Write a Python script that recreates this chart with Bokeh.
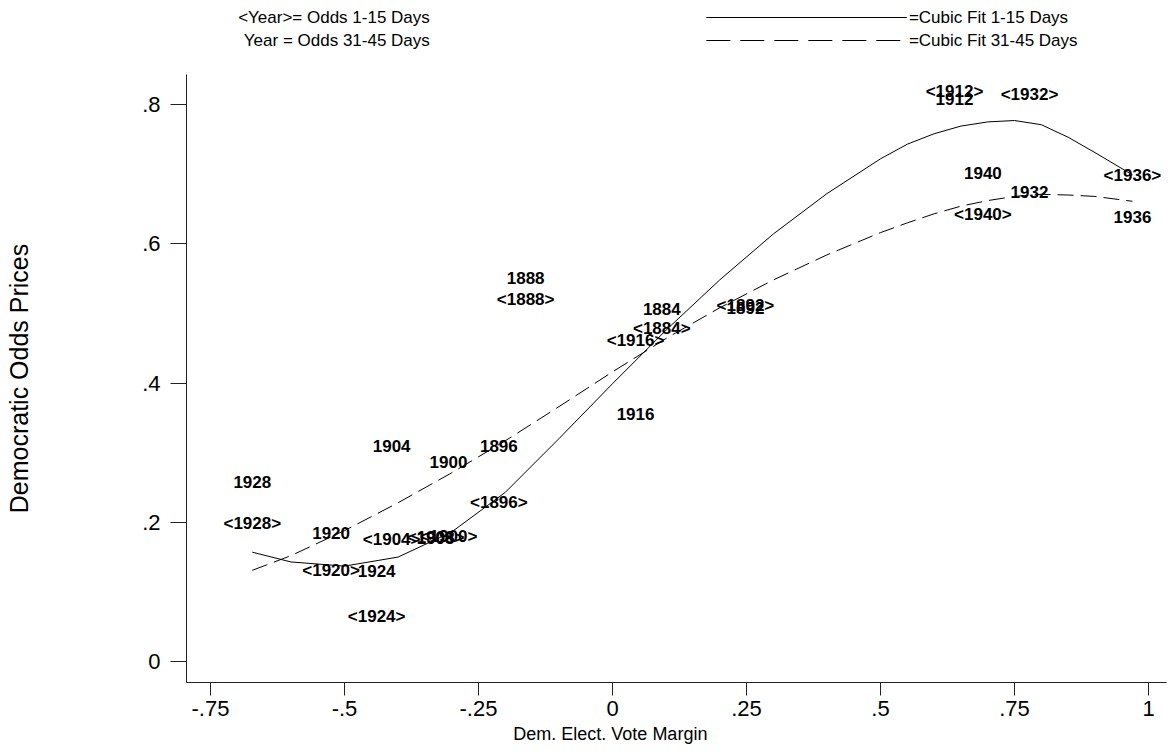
from bokeh.plotting import figure
from bokeh.layouts import column
from bokeh.models import ColumnDataSource, Range1d, FixedTicker, CustomJSTickFormatter, Label, Arrow
from bokeh.core.properties import value
from bokeh.embed import file_html
from bokeh.resources import INLINE

# ---------------- data ----------------
years = [1884, 1888, 1892, 1896, 1900, 1904, 1908, 1912, 1916, 1920, 1924, 1928, 1932, 1936, 1940]
vote_margin = [0.092, -0.162, 0.248, -0.212, -0.306, -0.412, -0.33, 0.638, 0.043,
               -0.525, -0.44, -0.672, 0.778, 0.97, 0.691]
odds_1_15 = [0.478, 0.520, 0.512, 0.229, 0.179, 0.175, 0.178, 0.818, 0.461,
             0.130, 0.065, 0.198, 0.814, 0.698, 0.642]
odds_31_45 = [0.507, 0.551, 0.508, 0.310, 0.287, 0.310, 0.178, 0.808, 0.356,
              0.185, 0.130, 0.258, 0.674, 0.638, 0.702]

fit_x = [-0.672, -0.6, -0.5, -0.4, -0.3, -0.2, -0.1, 0.0, 0.1, 0.2, 0.3, 0.4,
         0.5, 0.55, 0.6, 0.65, 0.7, 0.75, 0.8, 0.85, 0.9, 0.97]
fit_1_15 = [0.157, 0.143, 0.137, 0.150, 0.186, 0.243, 0.320, 0.399, 0.476, 0.548,
            0.614, 0.672, 0.722, 0.743, 0.758, 0.769, 0.775, 0.777, 0.771, 0.753, 0.731, 0.699]
fit_31_45 = [0.131, 0.152, 0.188, 0.228, 0.271, 0.317, 0.366, 0.416, 0.464, 0.508,
             0.548, 0.584, 0.616, 0.630, 0.643, 0.654, 0.662, 0.668, 0.671, 0.670, 0.668, 0.661]

x_ticks = [-0.75, -0.5, -0.25, 0, 0.25, 0.5, 0.75, 1]
y_ticks = [0, 0.2, 0.4, 0.6, 0.8]

legend_texts_left = ["<Year>= Odds  1-15 Days", "Year  = Odds 31-45 Days"]
legend_texts_right = ["=Cubic Fit   1-15 Days", "=Cubic Fit 31-45 Days"]
x_title = "Dem. Elect. Vote Margin"
y_title = "Democratic Odds Prices"

FONT = "Liberation Sans"
W = 1170
shared_x = Range1d(-0.79478, 1.03358)


def bare(height, yr):
    f = figure(width=W, height=height, x_range=shared_x, y_range=yr,
               output_backend="svg", toolbar_location=None,
               x_axis_location=None, y_axis_location=None,
               min_border_left=186, min_border_right=4, min_border_top=0, min_border_bottom=0)
    f.grid.visible = False
    f.outline_line_color = None
    f.background_fill_color = "white"
    f.border_fill_color = "white"
    return f


# ---------------- legend strip (above) ----------------
leg = bare(74, Range1d(74, 0))
row_y = [17, 40]
col1_right = -0.332
key_x0, key_x1 = 0.175, 0.549
col2_left = 0.553
leg_style = dict(text_font=FONT, text_font_size="17px", text_color="black",
                 text_baseline="middle")
for i in range(2):
    leg.add_layout(Label(x=col1_right, y=row_y[i], text=legend_texts_left[i],
                         text_align="right", **leg_style))
    leg.add_layout(Label(x=col2_left, y=row_y[i], text=legend_texts_right[i],
                         text_align="left", **leg_style))
leg.add_layout(Arrow(end=None, x_start=key_x0, y_start=row_y[0], x_end=key_x1, y_end=row_y[0],
                     line_color="black", line_width=1))
leg.add_layout(Arrow(end=None, x_start=key_x0, y_start=row_y[1], x_end=key_x1, y_end=row_y[1],
                     line_color="black", line_width=1, line_dash="24 10"))

# ---------------- main plot ----------------
p = figure(width=W, height=648, output_backend="svg", toolbar_location=None,
           x_range=shared_x, y_range=Range1d(-0.03016, 0.8431),
           min_border_left=186, min_border_right=4, min_border_top=0, min_border_bottom=40)
p.outline_line_color = None
p.xgrid.visible = False
p.ygrid.visible = False
p.background_fill_color = "white"
p.border_fill_color = "white"

fmt = CustomJSTickFormatter(code="""
let s = tick.toFixed(2).replace(/0+$/, '').replace(/\\.$/, '');
s = s.replace(/^(-?)0\\./, '$1.');
return s;
""")

for ax, ticks in ((p.xaxis[0], x_ticks), (p.yaxis[0], y_ticks)):
    ax.ticker = FixedTicker(ticks=ticks)
    ax.formatter = fmt
    ax.axis_line_color = "#222222"
    ax.axis_line_width = 1
    ax.major_tick_line_color = "#222222"
    ax.minor_tick_line_color = None
    ax.major_tick_in = 0
    ax.major_label_text_font = FONT
    ax.major_label_text_font_size = "22px"
    ax.major_label_text_color = "black"
    ax.axis_label_text_font = FONT
    ax.axis_label_text_font_style = "normal"
    ax.axis_label_text_color = "black"

p.xaxis.major_tick_out = 13
p.xaxis.major_label_standoff = 5

p.yaxis.major_tick_out = 16
p.yaxis.major_label_standoff = 10
p.yaxis.axis_label = y_title
p.yaxis.axis_label_text_font_size = "25px"
p.yaxis.axis_label_standoff = 106

fit_src = ColumnDataSource(dict(x=fit_x, y1=fit_1_15, y2=fit_31_45))
p.line("x", "y1", source=fit_src, line_color="black", line_width=1)
p.line("x", "y2", source=fit_src, line_color="black", line_width=1, line_dash="16 7")

lab1 = ColumnDataSource(dict(x=vote_margin, y=odds_1_15, t=[f"<{y}>" for y in years]))
lab2 = ColumnDataSource(dict(x=vote_margin, y=odds_31_45, t=[str(y) for y in years]))
for src in (lab2, lab1):
    p.text("x", "y", text="t", source=src, text_align="center", text_baseline="middle",
           text_font=value(FONT), text_font_size="17px", text_font_style="bold",
           text_color="black")

# ---------------- x-axis title strip (below) ----------------
bot = bare(28, Range1d(28, 0))
bot.add_layout(Label(x=-0.004, y=11, text=x_title, text_align="center", text_baseline="middle",
                     text_font=FONT, text_font_size="18px", text_color="black"))

layout = column(leg, p, bot, spacing=0)
open("out.html", "w").write(file_html(layout, INLINE))
